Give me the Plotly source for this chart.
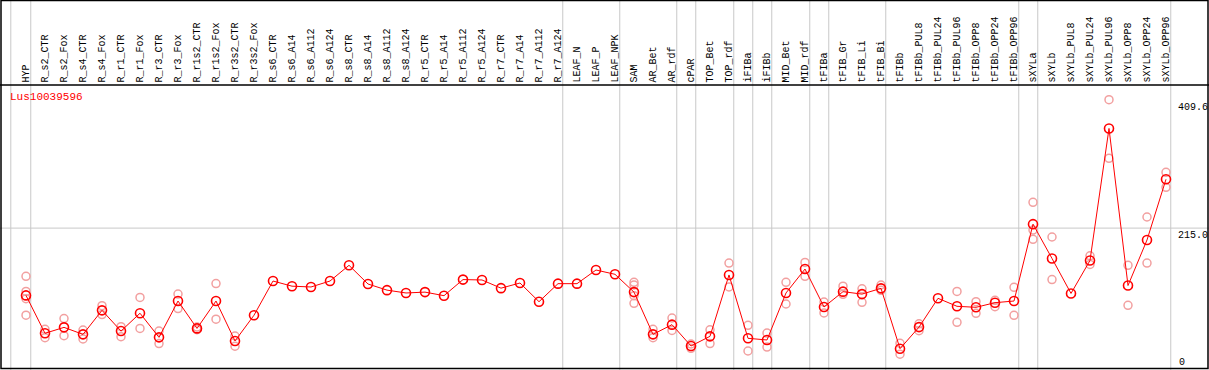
import plotly.graph_objects as go

categories = ["HYP", "R_s2_CTR", "R_s2_Fox", "R_s4_CTR", "R_s4_Fox", "R_r1_CTR", "R_r1_Fox",
              "R_r3_CTR", "R_r3_Fox", "R_r1s2_CTR", "R_r1s2_Fox", "R_r3s2_CTR", "R_r3s2_Fox",
              "R_s6_CTR", "R_s6_A14", "R_s6_A112", "R_s6_A124", "R_s8_CTR", "R_s8_A14", "R_s8_A112",
              "R_s8_A124", "R_r5_CTR", "R_r5_A14", "R_r5_A112", "R_r5_A124", "R_r7_CTR", "R_r7_A14",
              "R_r7_A112", "R_r7_A124", "LEAF_N", "LEAF_P", "LEAF_NPK", "SAM", "AR_Bet", "AR_rdf",
              "cPAR", "TOP_Bet", "TOP_rdf", "iFIBa", "iFIBb", "MID_Bet", "MID_rdf", "tFIBa",
              "tFIB_Gr", "tFIB_Li", "tFIB_Bi", "tFIBb", "tFIBb_PUL8", "tFIBb_PUL24", "tFIBb_PUL96",
              "tFIBb_OPP8", "tFIBb_OPP24", "tFIBb_OPP96", "sXYLa", "sXYLb", "sXYLb_PUL8",
              "sXYLb_PUL24", "sXYLb_PUL96", "sXYLb_OPP8", "sXYLb_OPP24", "sXYLb_OPP96"]

mean_values = [113, 55.6, 64.6, 54, 90.4, 59, 86, 49.5, 104.5, 63, 104.5, 44, 83,
               134.8, 127, 125.8, 134.8, 158.6, 130.3, 121, 116.7, 118, 112.6, 137, 136.4,
               124, 131.8, 103.5, 130.8, 130.8, 151.5, 145, 118, 54, 68.7, 36.4, 51, 144,
               48, 45.5, 116.7, 153, 95.5, 118.7, 115, 123.7, 32.3, 65, 108.6, 96.5, 95,
               102, 104.5, 221, 169, 116, 166, 366, 128, 197, 289]

replicates = [[142, 119, 108, 83], [61.6, 49], [78, 52], [60.6, 47], [97.5, 84], [65.6, 50.5],
              [110, 63], [59, 40], [115, 93], [65, 61], [131, 77], [51.5, 36], [],
              [], [], [], [], [], [], [], [], [], [], [], [], [], [], [], [], [], [], [],
              [132.8, 128.8, 112.6, 101], [61.6, 49], [78.8, 60], [39.4, 32.8], [61, 40],
              [162, 125.8], [67.7, 28.8], [56, 34.8], [132.8, 100], [163, 142], [103, 86.4],
              [127, 114.7], [123, 102.5], [128.8, 120.7], [40.4, 24], [70, 59.6], [],
              [119, 72.3], [103.5, 85.9], [105.6, 96], [125.3, 82.8], [254, 212, 198],
              [201.5, 137], [], [173, 160], [409.6, 320.7], [158.6, 98], [231.8, 162],
              [299.5, 276.8]]

# index of last category in each group
group_ends = [0, 28, 31, 34, 35, 37, 38, 39, 41, 42, 45, 52, 53, 60]

gene_label = "Lus10039596"
axis_ticks = [0, 215.0, 409.6]
grid_value = 215.0

W, H = 1209, 370
X0, DX = 26.0, 19.0          # pixel position of first category and spacing
Y0, DY = 370.0, 0.66         # pixel of value 0 and pixels per unit
HEADER_Y = 85.0

def px_x(p):
    return p / W

def px_y(p):
    return (H - p) / H

xs = list(range(len(categories)))
rep_x, rep_y = [], []
for i, reps in enumerate(replicates):
    for v in reps:
        rep_x.append(i)
        rep_y.append(v)

fig = go.Figure()
fig.add_trace(go.Scatter(x=rep_x, y=rep_y, mode="markers",
                         marker=dict(symbol="circle-open", size=8, color="#f2a0a0",
                                     line=dict(width=1.5, color="#f2a0a0")),
                         hoverinfo="skip", showlegend=False))
fig.add_trace(go.Scatter(x=xs, y=mean_values, mode="lines+markers",
                         line=dict(color="#ff0000", width=1),
                         marker=dict(symbol="circle-open", size=9, color="#ff0000",
                                     line=dict(width=1.6, color="#ff0000")),
                         text=categories, showlegend=False))

shapes = []
# vertical separators
sep_positions = [-0.8] + [g + 0.25 for g in group_ends]
for s in sep_positions:
    shapes.append(dict(type="line", xref="x", yref="paper", x0=s, x1=s, y0=0, y1=1,
                       line=dict(color="#c8c8c8", width=1), layer="below"))
# horizontal grid
shapes.append(dict(type="line", xref="paper", yref="y", x0=0, x1=1, y0=grid_value, y1=grid_value,
                   line=dict(color="#c8c8c8", width=1), layer="below"))
# frame
shapes.append(dict(type="rect", xref="paper", yref="paper", x0=px_x(1), x1=px_x(1208),
                   y0=px_y(368.5), y1=px_y(0.5), line=dict(color="black", width=1.5)))
shapes.append(dict(type="line", xref="paper", yref="paper", x0=0, x1=1,
                   y0=px_y(HEADER_Y), y1=px_y(HEADER_Y), line=dict(color="black", width=1.5)))

annotations = []
font = dict(family="Liberation Mono", size=10, color="black")
for i, c in enumerate(categories):
    annotations.append(dict(x=i, y=px_y(83.5), xref="x", yref="paper", text=c, textangle=-90,
                            showarrow=False, xanchor="center", yanchor="bottom",
                            font=font, borderpad=0))
annotations.append(dict(x=px_x(9), y=px_y(97), xref="paper", yref="paper", text=gene_label,
                        showarrow=False, xanchor="left", yanchor="middle",
                        font=dict(family="Liberation Mono", size=11, color="#ff0000"), borderpad=0))
for t in axis_ticks:
    lbl = "0" if t == 0 else f"{t:.1f}"
    if t == 0:
        annotations.append(dict(x=px_x(1178), y=px_y(362), xref="paper", yref="paper", text=lbl,
                                showarrow=False, xanchor="left", yanchor="middle",
                                font=font, borderpad=0))
    else:
        annotations.append(dict(x=px_x(1177), y=t, xref="paper", yref="y", text=lbl,
                                showarrow=False, xanchor="left", yanchor="top", yshift=-1,
                                font=font, borderpad=0))

fig.update_layout(
    width=W, height=H, margin=dict(l=0, r=0, t=0, b=0),
    paper_bgcolor="white", plot_bgcolor="white",
    xaxis=dict(range=[(0 - X0) / DX, (W - X0) / DX], visible=False, fixedrange=True),
    yaxis=dict(range=[0, Y0 / DY], visible=False, fixedrange=True),
    shapes=shapes, annotations=annotations, showlegend=False,
)

fig.write_html("out.html", config={"displayModeBar": False},
               post_script="document.body.style.margin='0px';document.body.style.overflow='hidden';")
